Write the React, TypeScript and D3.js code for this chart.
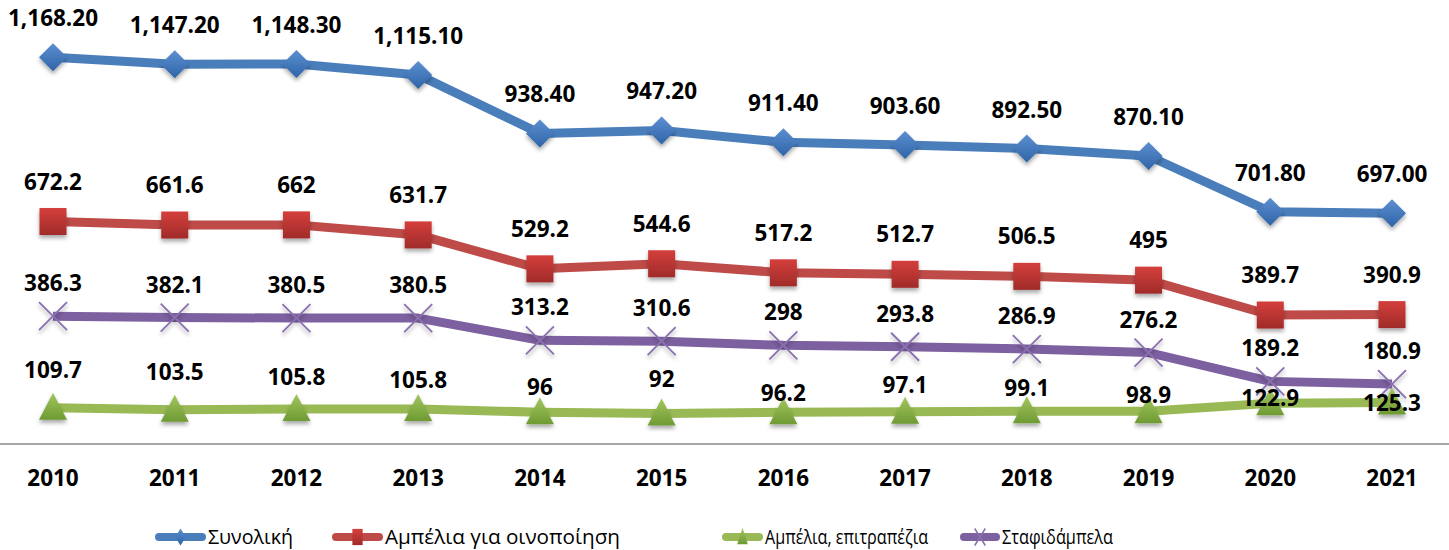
import React from "react";
import * as d3 from "d3";

const years = ["2010", "2011", "2012", "2013", "2014", "2015", "2016", "2017", "2018", "2019", "2020", "2021"];
const total = [1168.2, 1147.2, 1148.3, 1115.1, 938.4, 947.2, 911.4, 903.6, 892.5, 870.1, 701.8, 697.0];
const wine = [672.2, 661.6, 662, 631.7, 529.2, 544.6, 517.2, 512.7, 506.5, 495, 389.7, 390.9];
const table = [109.7, 103.5, 105.8, 105.8, 96, 92, 96.2, 97.1, 99.1, 98.9, 122.9, 125.3];
const raisin = [386.3, 382.1, 380.5, 380.5, 313.2, 310.6, 298, 293.8, 286.9, 276.2, 189.2, 180.9];
const seriesNames = ["Συνολική", "Αμπέλια για οινοποίηση", "Αμπέλια, επιτραπέζια", "Σταφιδάμπελα"];

// style: label lift (px above point centre) for the green series labels
const greenLift = [38, 38, 32, 29, 25, 35, 19, 27, 23, 16, 5, 0];

const W = 1449, H = 550;
const FONT = "'Open Sans', 'DejaVu Sans', sans-serif";

type S = { name: string; values: number[]; color: string; marker: string; g1: string; g2: string; lift: (i: number) => number; fmt: (v: number) => string };

export default function App() {
  const x = d3.scalePoint<string>().domain(years).range([53, 1392]);
  const y = d3.scaleLinear().domain([0, 1400]).range([444, 444 - 1400 * 0.331]);
  const plain = (v: number) => String(v);
  const series: S[] = [
    { name: seriesNames[0], values: total, color: "#4a7ebb", marker: "diamond", g1: "#5b8fd0", g2: "#2f64a8", lift: () => 39, fmt: d3.format(",.2f") },
    { name: seriesNames[1], values: wine, color: "#be4b48", marker: "square", g1: "#d43f3c", g2: "#a02b29", lift: () => 40, fmt: plain },
    { name: seriesNames[2], values: table, color: "#98b954", marker: "triangle", g1: "#a3c65e", g2: "#6e9a33", lift: (i) => greenLift[i], fmt: plain },
    { name: seriesNames[3], values: raisin, color: "#7d60a0", marker: "x", g1: "#9079b5", g2: "#7a5ea0", lift: () => 33, fmt: plain },
  ];
  const drawOrder = [0, 1, 3, 2];

  const marker = (s: S, idx: number, cx: number, cy: number, sx = 1, sy = 1, shadow = true, key?: any) => {
    const fill = `url(#grad${idx})`;
    const filt = shadow ? "url(#shadow)" : undefined;
    const t = `translate(${cx},${cy}) scale(${sx},${sy})`;
    if (s.marker === "diamond") return <path key={key} transform={t} d="M0,-14L14,0L0,14L-14,0Z" fill={fill} filter={filt} />;
    if (s.marker === "square") return <rect key={key} transform={t} x={-13.5} y={-13.5} width={27} height={27} fill={fill} filter={filt} />;
    if (s.marker === "triangle") return <path key={key} transform={t} d="M0,-15L14,12L-14,12Z" fill={fill} filter={filt} />;
    return <path key={key} transform={t} d="M-14,-14L14,14M14,-14L-14,14" stroke="#8a70b0" strokeWidth={1.8 / Math.max(sx, 0.5)} fill="none" filter={filt} />;
  };

  const line = d3.line<number>().x((_, i) => x(years[i])!).y((v) => y(v));

  const legendItems = [
    { x0: 155, x1: 206, tx: 208, tw: 85 },
    { x0: 332, x1: 383, tx: 385, tw: 235 },
    { x0: 722, x1: 763, tx: 765, tw: 163 },
    { x0: 960, x1: 1000, tx: 1002, tw: 111 },
  ];
  const legY = 537;

  return (
    <div style={{ position: "absolute", left: 0, top: 0 }}>
      <svg width={W} height={H} style={{ display: "block", background: "#fff" }}>
        <defs>
          {series.map((s, i) => (
            <linearGradient key={i} id={`grad${i}`} x1="0" y1="0" x2="0" y2="1">
              <stop offset="0" stopColor={s.g1} />
              <stop offset="1" stopColor={s.g2} />
            </linearGradient>
          ))}
          <filter id="shadow" x="-50%" y="-50%" width="200%" height="200%">
            <feGaussianBlur in="SourceAlpha" stdDeviation="2" />
            <feOffset dx="0" dy="3" result="b" />
            <feComponentTransfer><feFuncA type="linear" slope="0.35" /></feComponentTransfer>
            <feMerge><feMergeNode /><feMergeNode in="SourceGraphic" /></feMerge>
          </filter>
        </defs>

        <line x1={0} x2={W} y1={444} y2={444} stroke="#a6a6a6" strokeWidth={2} />

        {years.map((yr) => (
          <text key={yr} x={x(yr)} y={486} textAnchor="middle" fontFamily={FONT} fontWeight={700} fontSize={22.5} fill="#000">{yr}</text>
        ))}

        {drawOrder.map((si) => {
          const s = series[si];
          return (
            <g key={si}>
              <path d={line(s.values) || ""} fill="none" stroke={s.color} strokeWidth={9} strokeLinejoin="round" />
              {s.values.map((v, i) => marker(s, si, x(years[i])!, y(v), 1, 1, true, i))}
            </g>
          );
        })}

        {drawOrder.map((si) => {
          const s = series[si];
          return (
            <g key={"l" + si}>
              {s.values.map((v, i) => (
                <text key={i} x={x(years[i])} y={y(v) - s.lift(i) + 8} textAnchor="middle" fontFamily={FONT} fontWeight={700} fontSize={22.5} fill="#000">{s.fmt(v)}</text>
              ))}
            </g>
          );
        })}

        {series.map((s, i) => {
          const it = legendItems[i];
          return (
            <g key={"leg" + i}>
              <line x1={it.x0 + 4} x2={it.x1 - 4} y1={legY} y2={legY} stroke={s.color} strokeWidth={8} strokeLinecap="round" />
              {marker(s, i, (it.x0 + it.x1) / 2, legY, 0.38, 0.6, false)}
              <text x={it.tx} y={legY + 7} fontFamily={FONT} fontSize={20} fill="#000" textLength={it.tw} lengthAdjust="spacingAndGlyphs">{s.name}</text>
            </g>
          );
        })}
      </svg>
    </div>
  );
}
